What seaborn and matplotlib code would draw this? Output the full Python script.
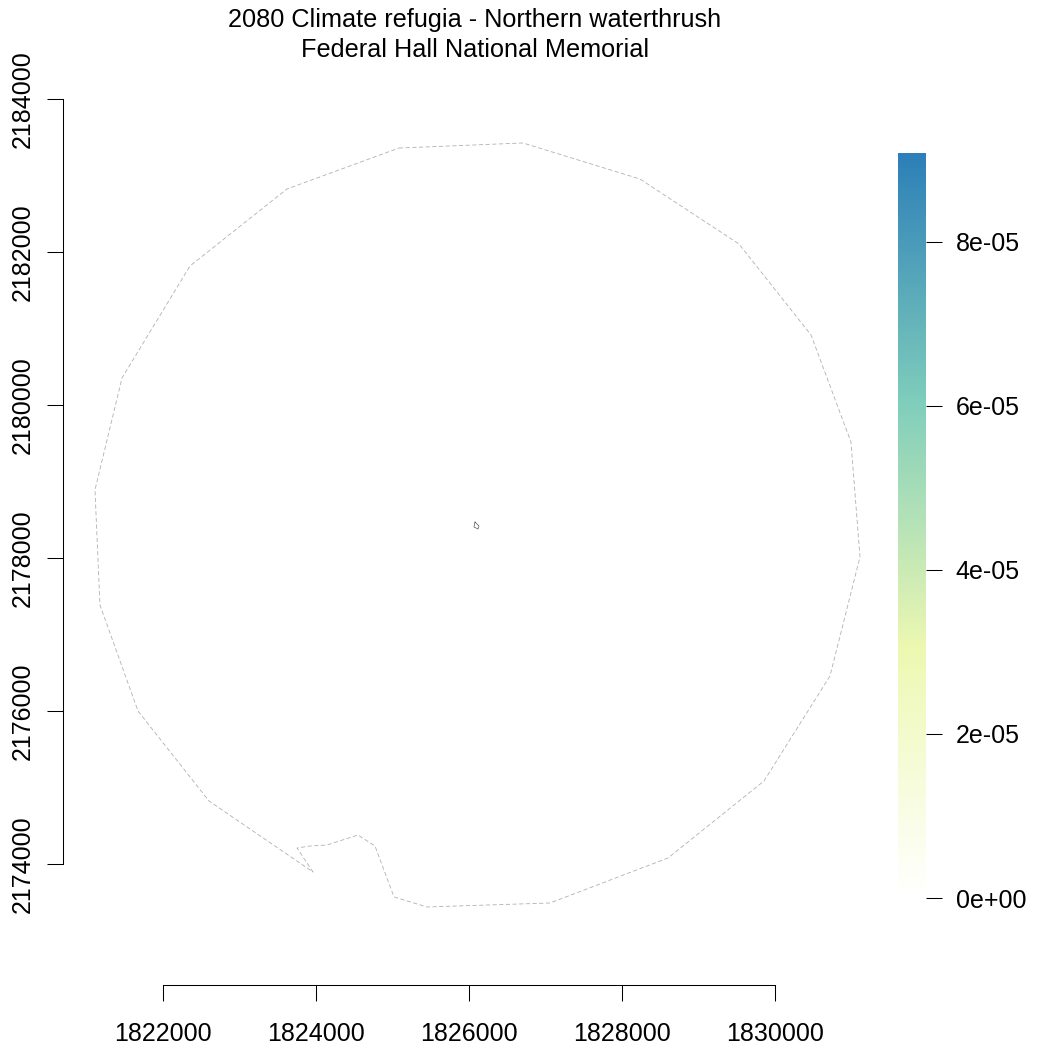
import numpy as np
import pandas as pd
import seaborn as sns
import matplotlib.pyplot as plt
from matplotlib.cm import ScalarMappable
from matplotlib.colors import LinearSegmentedColormap, Normalize

# park buffer outline
buffer_x = [1825085, 1826706, 1828235, 1829529, 1830471, 1830993, 1831111, 1830719,
            1829856, 1828601, 1827059, 1825451, 1825020, 1824771, 1824549, 1824144,
            1823922, 1823752, 1823961, 1822601, 1821673, 1821176, 1821111, 1821464,
            1822353, 1823621, 1825085]
buffer_y = [2183359, 2183425, 2182954, 2182105, 2180915, 2179516, 2178013, 2176458,
            2175085, 2174078, 2173490, 2173438, 2173569, 2174235, 2174379, 2174248,
            2174235, 2174209, 2173895, 2174824, 2176000, 2177386, 2178889, 2180353,
            2181817, 2182824, 2183359]

# the park itself, a tiny polygon in the middle
park_x = [1826078, 1826131, 1826118, 1826065, 1826078]
park_y = [2178471, 2178418, 2178379, 2178405, 2178471]

x_ticks = [1822000, 1824000, 1826000, 1828000, 1830000]
y_ticks = [2174000, 2176000, 2178000, 2180000, 2182000, 2184000]
cbar_ticks = [0, 2e-05, 4e-05, 6e-05, 8e-05]
cbar_labels = ['0e+00', '2e-05', '4e-05', '6e-05', '8e-05']
cbar_max = 9.085e-05
ramp_colors = ['#ffffff', '#edf8b1', '#7fcdbb', '#2c7fb8']

sns.set_style('white')
plt.rcParams['font.family'] = ['Liberation Sans', 'DejaVu Sans']
plt.rcParams['text.color'] = 'black'
plt.rcParams['xtick.labelcolor'] = 'black'
plt.rcParams['ytick.labelcolor'] = 'black'

W = 1050.0
fig = plt.figure(figsize=(10.5, 10.5), dpi=100)
ax = fig.add_axes([63 / W, 1 - 985 / W, (887 - 63) / W, (985 - 70) / W])

buffer_df = pd.DataFrame({'x': buffer_x, 'y': buffer_y})
park_df = pd.DataFrame({'x': park_x, 'y': park_y})
sns.lineplot(data=buffer_df, x='x', y='y', sort=False, estimator=None, ax=ax,
             color='#b0b0b0', linewidth=0.6, linestyle=(0, (5, 3)))
sns.lineplot(data=park_df, x='x', y='y', sort=False, estimator=None, ax=ax,
             color='#555555', linewidth=0.5)

ax.set_xlim(1820693, 1831464)
ax.set_ylim(2172418, 2184379)
ax.set_xlabel('')
ax.set_ylabel('')

ax.set_xticks(x_ticks)
ax.set_xticklabels([str(v) for v in x_ticks], fontsize=18, color='black')
ax.set_yticks(y_ticks)
ax.set_yticklabels([str(v) for v in y_ticks], fontsize=18, rotation=90, va='center', color='black')
ax.tick_params(axis='x', length=11.5, width=0.75, color='black', bottom=True, pad=15)
ax.tick_params(axis='y', length=11.5, width=0.75, color='black', left=True, pad=9)

sns.despine(ax=ax)
ax.spines['left'].set_bounds(y_ticks[0], y_ticks[-1])
ax.spines['bottom'].set_bounds(x_ticks[0], x_ticks[-1])
ax.spines['left'].set_linewidth(0.75)
ax.spines['bottom'].set_linewidth(0.75)
ax.spines['left'].set_color('black')
ax.spines['bottom'].set_color('black')

ax.set_title('2080 Climate refugia - Northern waterthrush\nFederal Hall National Memorial',
             fontsize=18.15, linespacing=1.28, pad=9.6, color='black')

# colour ramp on the right
cax = fig.add_axes([898 / W, 1 - 898 / W, 28 / W, (898 - 153) / W])
cmap = LinearSegmentedColormap.from_list('refugia', ramp_colors, N=256)
sm = ScalarMappable(norm=Normalize(0, cbar_max), cmap=cmap)
cb = fig.colorbar(sm, cax=cax)
cb.outline.set_visible(False)
cb.set_ticks(cbar_ticks)
cb.set_ticklabels(cbar_labels)
cb.ax.tick_params(length=11.5, width=0.75, color='black', labelsize=18, labelcolor='black', pad=10, right=True)

fig.savefig('out.png', dpi=100)
